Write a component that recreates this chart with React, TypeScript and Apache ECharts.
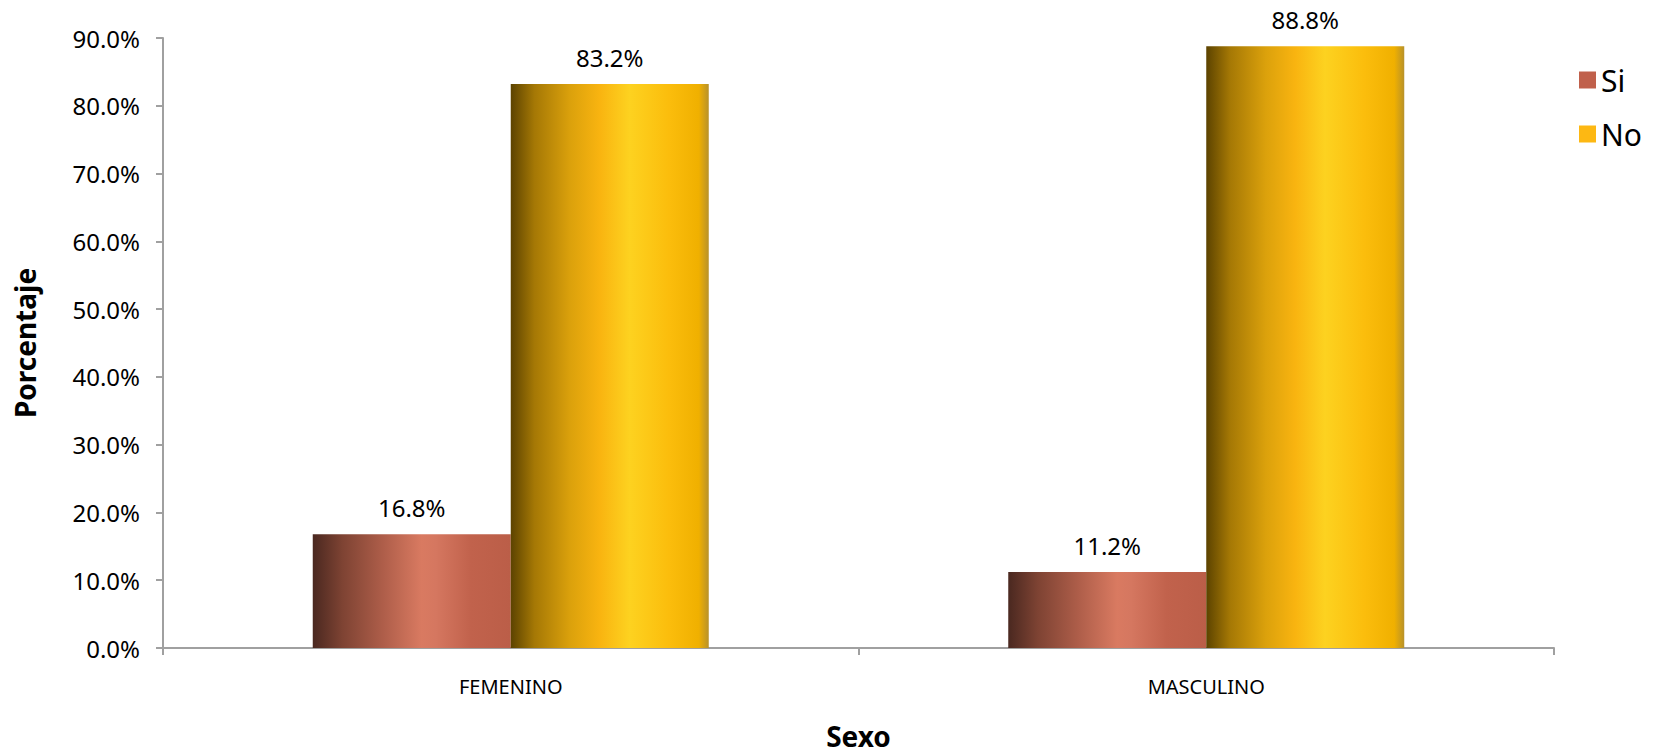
import React, { useEffect, useRef } from "react";
import * as echarts from "echarts";

const categories = ["FEMENINO", "MASCULINO"];
const siValues = [16.8, 11.2];
const noValues = [83.2, 88.8];
const seriesNames = ["Si", "No"];
const yTicks = { min: 0, max: 90, interval: 10 };

const FONT = "'Noto Sans', sans-serif";

const siGradient = new echarts.graphic.LinearGradient(0, 0, 1, 0, [
  { offset: 0, color: "#4a2820" },
  { offset: 0.15, color: "#7e4333" },
  { offset: 0.35, color: "#ad5d49" },
  { offset: 0.55, color: "#d97a61" },
  { offset: 0.62, color: "#d57760" },
  { offset: 0.8, color: "#c1624c" },
  { offset: 1, color: "#bb5e48" },
]);

const noGradient = new echarts.graphic.LinearGradient(0, 0, 1, 0, [
  { offset: 0, color: "#5c4300" },
  { offset: 0.12, color: "#a57805" },
  { offset: 0.3, color: "#dba10c" },
  { offset: 0.45, color: "#f9b410" },
  { offset: 0.6, color: "#fdd220" },
  { offset: 0.8, color: "#fbbd0c" },
  { offset: 0.95, color: "#f0b000" },
  { offset: 1, color: "#b8922a" },
]);

export default function App() {
  const ref = useRef<HTMLDivElement>(null);
  useEffect(() => {
    if (!ref.current) return;
    const chart = echarts.init(ref.current, null, { renderer: "svg" });
    const labelStyle = {
      show: true,
      position: "top" as const,
      distance: 15,
      fontFamily: FONT,
      fontSize: 24,
      color: "#000",
      formatter: (p: any) => p.value.toFixed(1) + "%",
    };
    chart.setOption({
      animation: false,
      grid: {
        left: 163,
        right: 109,
        top: 38,
        bottom: 108,
        containLabel: false,
        outerBoundsMode: "none",
      },
      legend: {
        orient: "vertical",
        left: 1574,
        top: 60,
        itemWidth: 17,
        itemHeight: 17,
        itemGap: 24,
        icon: "rect",
        textStyle: { fontFamily: FONT, fontSize: 30, color: "#000" },
        data: [
          { name: seriesNames[0], itemStyle: { color: "#c0604b" } },
          { name: seriesNames[1], itemStyle: { color: "#fdb813" } },
        ],
      },
      xAxis: {
        type: "category",
        data: categories,
        name: "Sexo",
        nameLocation: "middle",
        nameGap: 74,
        nameTextStyle: { fontFamily: FONT, fontSize: 28, fontWeight: "bold", color: "#000" },
        axisLine: { lineStyle: { color: "#a0a0a0", width: 2 } },
        axisTick: { show: true, length: 7, lineStyle: { color: "#a0a0a0", width: 2 } },
        axisLabel: { fontFamily: FONT, fontSize: 20, color: "#000", margin: 28 },
      },
      yAxis: {
        type: "value",
        min: yTicks.min,
        max: yTicks.max,
        interval: yTicks.interval,
        name: "Porcentaje",
        nameLocation: "middle",
        nameGap: 124,
        nameTextStyle: { fontFamily: FONT, fontSize: 28, fontWeight: "bold", color: "#000" },
        axisLine: { show: true, lineStyle: { color: "#a0a0a0", width: 2 } },
        axisTick: { show: true, length: 7, lineStyle: { color: "#a0a0a0", width: 2 } },
        splitLine: { show: false },
        axisLabel: {
          fontFamily: FONT,
          fontSize: 24,
          color: "#000",
          margin: 23,
          formatter: (v: number) => v.toFixed(1) + "%",
        },
      },
      series: [
        {
          name: seriesNames[0],
          type: "bar",
          data: siValues,
          barWidth: 198,
          barGap: "0%",
          itemStyle: { color: siGradient },
          label: labelStyle,
        },
        {
          name: seriesNames[1],
          type: "bar",
          data: noValues,
          barWidth: 198,
          barGap: "0%",
          itemStyle: { color: noGradient },
          label: labelStyle,
        },
      ],
    });
    return () => chart.dispose();
  }, []);
  return <div ref={ref} style={{ width: 1663, height: 756, position: "absolute", left: 0, top: 0 }} />;
}
